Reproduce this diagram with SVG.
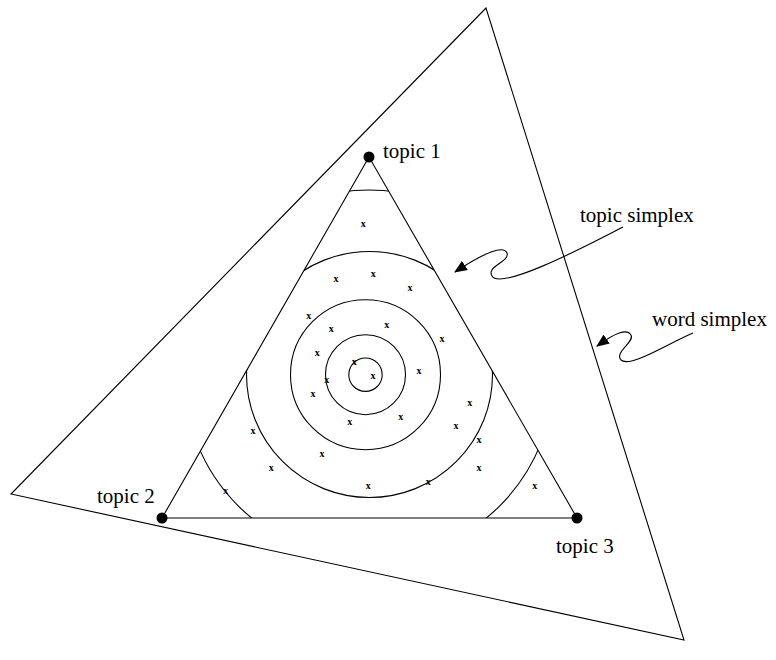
<svg xmlns="http://www.w3.org/2000/svg" width="776" height="660" viewBox="0 0 776 660">
<defs>
<style>
.ln{fill:none;stroke:#000;stroke-width:1.1}
.lbl{font-family:"Liberation Serif","Times New Roman",serif;font-size:21px;fill:#000}
.x{font-family:"Liberation Serif","Times New Roman",serif;font-size:10px;font-weight:bold;fill:#000;text-anchor:middle}
.dot{fill:#000}
</style>
<clipPath id="tri"><polygon points="369,157 162,518 577,518"/></clipPath>
<marker id="ah" viewBox="0 0 12 10" refX="11" refY="5" markerWidth="13" markerHeight="11" markerUnits="userSpaceOnUse" orient="auto"><path d="M0,0 L12,5 L0,10 z" fill="#000"/></marker>
</defs>
<rect width="776" height="660" fill="#fff"/>
<g id="word-simplex"><polygon class="ln" points="486,8 11,494 684,640"/></g>
<g id="topic-simplex">
<polygon class="ln" points="369,157 162,518 577,518"/>
<g clip-path="url(#tri)">
<circle class="ln" cx="365.5" cy="374.7" r="16.7"/>
<circle class="ln" cx="365.5" cy="374.7" r="40"/>
<circle class="ln" cx="365.5" cy="374.7" r="75"/>
<circle class="ln" cx="369.5" cy="374.5" r="123"/>
<circle class="ln" cx="369" cy="375" r="185"/>
</g>
</g>
<g id="points">
<text class="x" x="363.3" y="227">x</text>
<text class="x" x="336" y="282.3">x</text>
<text class="x" x="373.3" y="277">x</text>
<text class="x" x="410" y="291.3">x</text>
<text class="x" x="308.7" y="319.3">x</text>
<text class="x" x="331.3" y="332">x</text>
<text class="x" x="386.7" y="328.3">x</text>
<text class="x" x="442" y="342">x</text>
<text class="x" x="317.3" y="356.3">x</text>
<text class="x" x="354.3" y="365.3">x</text>
<text class="x" x="419" y="374.3">x</text>
<text class="x" x="373" y="379.3">x</text>
<text class="x" x="326.7" y="383.3">x</text>
<text class="x" x="313" y="397.3">x</text>
<text class="x" x="469.7" y="406.3">x</text>
<text class="x" x="400.7" y="420.3">x</text>
<text class="x" x="349.7" y="425">x</text>
<text class="x" x="456" y="429.3">x</text>
<text class="x" x="253" y="434.3">x</text>
<text class="x" x="479" y="443.3">x</text>
<text class="x" x="322" y="457.3">x</text>
<text class="x" x="271.3" y="471">x</text>
<text class="x" x="479" y="471">x</text>
<text class="x" x="428.3" y="485">x</text>
<text class="x" x="368.3" y="489.3">x</text>
<text class="x" x="225.7" y="493.7">x</text>
<text class="x" x="534.7" y="489.3">x</text>
</g>
<g id="topic1"><circle class="dot" cx="369" cy="157" r="5.5"/><text class="lbl" x="383" y="158">topic 1</text></g>
<g id="topic2"><circle class="dot" cx="162" cy="518" r="5.5"/><text class="lbl" x="97" y="503">topic 2</text></g>
<g id="topic3"><circle class="dot" cx="577" cy="518" r="5.5"/><text class="lbl" x="556" y="553">topic 3</text></g>
<g id="label-topic-simplex"><text class="lbl" x="580" y="222">topic simplex</text></g>
<g id="label-word-simplex"><text class="lbl" x="652" y="326">word simplex</text></g>
<g id="connectors">
<path class="ln" d="M623,227 C575,252 500,290 492,276 C486,266 510,262 507,253 C504,245 485,252 455,272" marker-end="url(#ah)"/>
<path class="ln" d="M693,333 C665,345 630,368 621,360 C614,352 635,342 631,335 C627,328 615,333 597,346" marker-end="url(#ah)"/>
</g>
</svg>
